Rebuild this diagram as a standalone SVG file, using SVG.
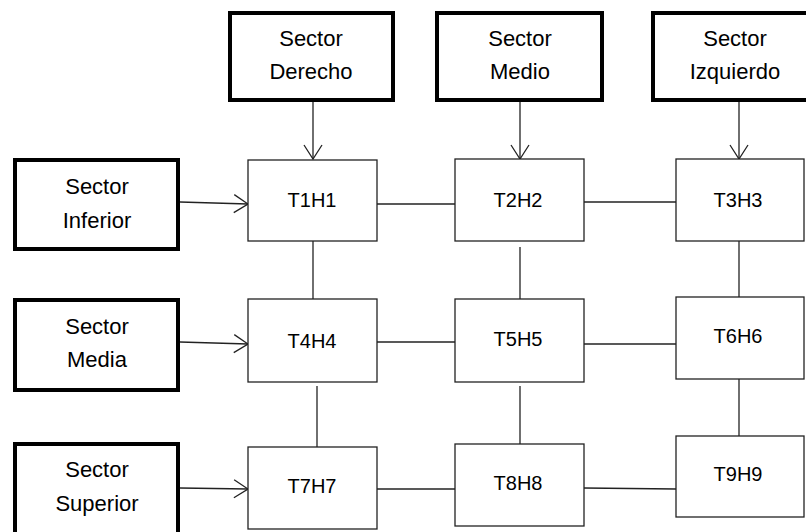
<svg xmlns="http://www.w3.org/2000/svg" width="806" height="532" viewBox="0 0 806 532">
<defs>
<style>
.sec{fill:#fff;stroke:#000;stroke-width:4}
.node{fill:#fff;stroke:#222;stroke-width:1.3}
text{font-family:"Liberation Sans",Arial,sans-serif;font-size:20px;fill:#000;text-anchor:middle;dominant-baseline:central}
.sl{font-size:22px}
.ln{stroke:#222;stroke-width:1.3;fill:none}
</style>
<marker id="arr" viewBox="0 0 16 20" refX="15" refY="10" markerWidth="16" markerHeight="20" markerUnits="userSpaceOnUse" orient="auto">
<path d="M1,1 L15,10 L1,19" fill="none" stroke="#222" stroke-width="1.3"/>
</marker>
</defs>
<rect width="806" height="532" fill="#fff"/>
<g id="connectors">
<line class="ln" x1="313" y1="101" x2="313" y2="159" marker-end="url(#arr)"/>
<line class="ln" x1="520" y1="101" x2="520" y2="159" marker-end="url(#arr)"/>
<line class="ln" x1="739" y1="101" x2="739" y2="159" marker-end="url(#arr)"/>
<line class="ln" x1="180" y1="202" x2="248" y2="204" marker-end="url(#arr)"/>
<line class="ln" x1="180" y1="342" x2="248" y2="344" marker-end="url(#arr)"/>
<line class="ln" x1="180" y1="488" x2="248" y2="489" marker-end="url(#arr)"/>
<line class="ln" x1="377" y1="204" x2="455" y2="204"/>
<line class="ln" x1="584" y1="202" x2="676" y2="202"/>
<line class="ln" x1="377" y1="342" x2="455" y2="342"/>
<line class="ln" x1="584" y1="344" x2="676" y2="344"/>
<line class="ln" x1="377" y1="489" x2="455" y2="489"/>
<line class="ln" x1="584" y1="488" x2="676" y2="489"/>
<line class="ln" x1="313" y1="241" x2="313" y2="299"/>
<line class="ln" x1="520" y1="247" x2="520" y2="304"/>
<line class="ln" x1="739" y1="239" x2="739" y2="297"/>
<line class="ln" x1="317" y1="386" x2="317" y2="447"/>
<line class="ln" x1="520" y1="386" x2="520" y2="444"/>
<line class="ln" x1="739" y1="379" x2="739" y2="438"/>
</g>
<g id="sector-derecho"><rect class="sec" x="230" y="13" width="163" height="87"/><text class="sl" x="311" y="38">Sector</text><text class="sl" x="311" y="71">Derecho</text></g>
<g id="sector-medio"><rect class="sec" x="437" y="13" width="165" height="87"/><text class="sl" x="520" y="38">Sector</text><text class="sl" x="520" y="71">Medio</text></g>
<g id="sector-izquierdo"><rect class="sec" x="653" y="13" width="165" height="87"/><text class="sl" x="735" y="38">Sector</text><text class="sl" x="735" y="71">Izquierdo</text></g>
<g id="sector-inferior"><rect class="sec" x="15" y="160" width="163" height="89"/><text class="sl" x="97" y="186">Sector</text><text class="sl" x="97" y="220">Inferior</text></g>
<g id="sector-media"><rect class="sec" x="15" y="300" width="163" height="90"/><text class="sl" x="97" y="326">Sector</text><text class="sl" x="97" y="359">Media</text></g>
<g id="sector-superior"><rect class="sec" x="15" y="444" width="163" height="100"/><text class="sl" x="97" y="469">Sector</text><text class="sl" x="97" y="503">Superior</text></g>
<g id="T1H1"><rect class="node" x="248" y="160" width="129" height="81"/><text x="312" y="200">T1H1</text></g>
<g id="T2H2"><rect class="node" x="455" y="159" width="129" height="82"/><text x="518" y="200">T2H2</text></g>
<g id="T3H3"><rect class="node" x="676" y="159" width="128" height="82"/><text x="738" y="200">T3H3</text></g>
<g id="T4H4"><rect class="node" x="248" y="299" width="129" height="83"/><text x="312" y="341">T4H4</text></g>
<g id="T5H5"><rect class="node" x="455" y="299" width="129" height="83"/><text x="518" y="339">T5H5</text></g>
<g id="T6H6"><rect class="node" x="676" y="297" width="128" height="82"/><text x="738" y="336">T6H6</text></g>
<g id="T7H7"><rect class="node" x="248" y="447" width="129" height="82"/><text x="312" y="486">T7H7</text></g>
<g id="T8H8"><rect class="node" x="455" y="444" width="129" height="82"/><text x="518" y="483">T8H8</text></g>
<g id="T9H9"><rect class="node" x="676" y="436" width="128" height="81"/><text x="738" y="474">T9H9</text></g>
</svg>
